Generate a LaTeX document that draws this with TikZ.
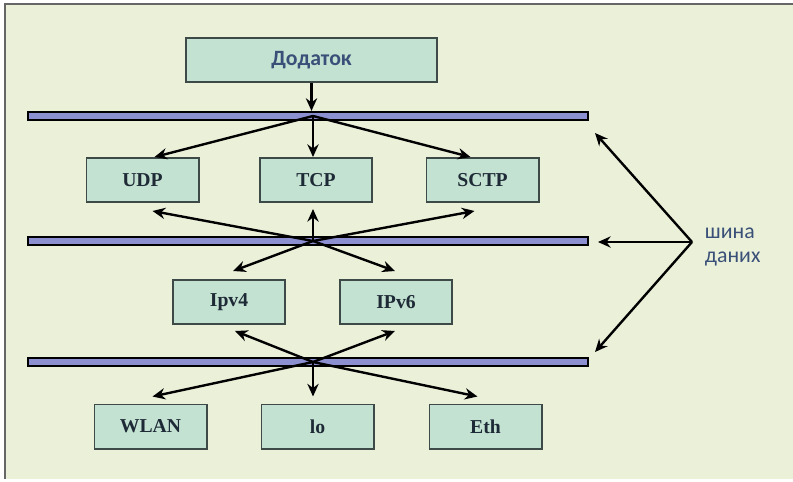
\documentclass[tikz,border=0pt]{standalone}
\usepackage{fontspec}
\setmainfont{Liberation Serif}
\newfontfamily\labelfont{Carlito}
\usetikzlibrary{positioning, arrows.meta, calc}
\definecolor{bgcream}{HTML}{EBF0D9}
\definecolor{boxgreen}{HTML}{C3E2D2}
\definecolor{boxedge}{HTML}{3E4A47}
\definecolor{busblue}{HTML}{8C8FD0}
\definecolor{textblue}{HTML}{3A5078}
\definecolor{textdark}{HTML}{1E2A36}

\tikzset{
  layerbox/.style={rectangle, draw=boxedge, line width=1.4pt, fill=boxgreen, text=textdark,
    minimum width=2.8cm, minimum height=1.1cm, font=\bfseries\fontsize{14}{16}\selectfont},
  busbar/.style={rectangle, draw=black, line width=1.5pt, fill=busblue,
    minimum width=14cm, minimum height=0.2cm, inner sep=0pt},
  flow/.style={-{Stealth[length=9pt,width=8pt]}, line width=1.7pt},
}

\begin{document}
\begin{tikzpicture}[x=0.025cm, y=-0.025cm]
% Background and frame
\useasboundingbox (0,0) rectangle (793,481);
\fill[bgcream] (5,4) rectangle (793,479);
\draw[gray!80!black, line width=1.2pt] (5,479) -- (5,4) -- (793,4);

% Application
\node[layerbox, minimum width=6.25cm, text=textblue, font=\labelfont\bfseries\fontsize{15.5}{17}\selectfont] (app) at (311.5,60) {Додаток};

% Data buses
\foreach \bus/\ypos in {bus1/116, bus2/241, bus3/362} {
    \node[busbar] (\bus) at (308,\ypos) {};
}
\coordinate (j1) at (313,116);
\coordinate (j2) at (313,241);
\coordinate (j3) at (313,362);

% Transport layer
\foreach \name/\txt/\xpos in {udp/UDP/142.5, tcp/TCP/316, sctp/SCTP/482.5} {
    \node[layerbox] (\name) at (\xpos,180) {\txt};
}

% Network layer
\foreach \name/\txt/\xpos in {ipv4/Ipv4/229, ipv6/IPv6/396} {
    \node[layerbox] (\name) at (\xpos,302) {\txt};
}

% Link layer
\foreach \name/\txt/\xpos in {wlan/WLAN/150.5, lo/lo/317.5, eth/Eth/485.5} {
    \node[layerbox] (\name) at (\xpos,426.5) {\txt};
}

% Arrows through the buses
\draw[flow] (app.south) -- (app.south |- bus1.north);
\draw[flow] (j1) -- ($(udp.north)+(12,0)$);
\draw[flow] (j1) -- (tcp.north -| j1);
\draw[flow] (j1) -- ($(sctp.north)+(-12,0)$);

\draw[flow] (j2) -- ($(udp.south)+(10,8)$);
\draw[flow] (j2) -- ($(tcp.south -| j2)+(0,6)$);
\draw[flow] (j2) -- ($(sctp.south)+(-8,8)$);
\draw[flow] (j2) -- ($(ipv4.north)+(4,-8)$);
\draw[flow] (j2) -- ($(ipv6.north)+(-1,-8)$);

\draw[flow] (j3) -- ($(ipv4.south)+(6,6)$);
\draw[flow] (j3) -- ($(ipv6.south)+(-1,6)$);
\draw[flow] (j3) -- ($(wlan.north)+(2,-7)$);
\draw[flow] (j3) -- ($(lo.north -| j3)+(0,-7)$);
\draw[flow] (j3) -- ($(eth.north)+(-8,-7)$);

% Bus label
\node[align=left, text=textblue, font=\labelfont\fontsize{15.5}{17}\selectfont, anchor=west] (buslabel) at (700,247) {шина\\даних};
\coordinate (hub) at (692,242);
\coordinate (tip1) at (595,133);
\coordinate (tip2) at (598,242);
\coordinate (tip3) at (595,352);
\foreach \tip in {tip1, tip2, tip3} {
    \draw[flow] (hub) -- (\tip);
}

\end{tikzpicture}
\end{document}
